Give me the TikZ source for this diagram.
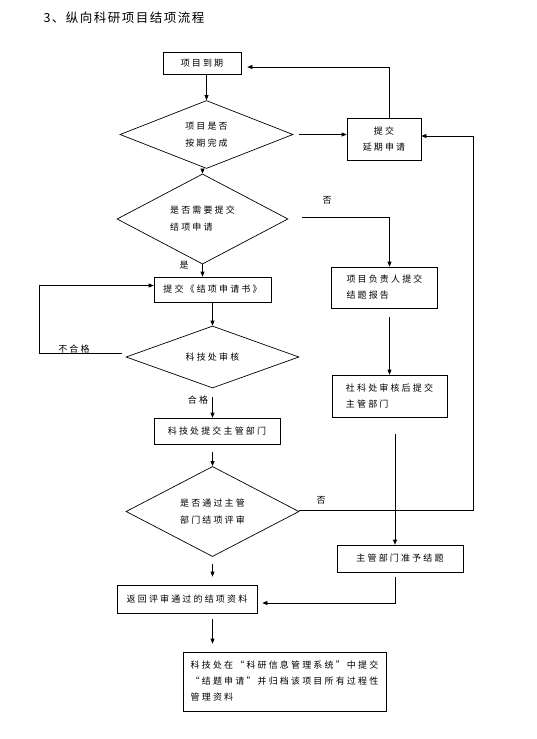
\documentclass[tikz,border=0pt]{standalone}
\usepackage{fontspec}
\newfontfamily\cjk[LetterSpace=24]{Noto Sans CJK SC}
\newfontfamily\cjktitle[LetterSpace=12]{Noto Sans CJK SC}
\usetikzlibrary{arrows.meta, positioning, shapes.geometric}

\begin{document}
\begin{tikzpicture}[x=1pt, y=-1pt,
  box/.style={draw, line width=0.7pt, inner sep=2pt, align=left,
              font=\cjk\fontsize{9}{16}\selectfont},
  dia/.style={draw, diamond, line width=0.7pt, inner sep=0pt, align=left,
              font=\cjk\fontsize{9}{17}\selectfont},
  arrow/.style={-{Triangle[length=5pt, width=4pt]}, line width=0.7pt},
  note/.style={font=\cjk\fontsize{9}{10}\selectfont}
]
  \useasboundingbox (0,0) rectangle (536,739);

  \node[font=\cjktitle\fontsize{12.5}{14}\selectfont, anchor=west] (title) at (40,18) {3、纵向科研项目结项流程};

  \node[box, minimum width=78pt, minimum height=22pt] (due) at (202,63) {项目到期};
  \node[dia, minimum width=173pt, minimum height=68pt] (d1) at (206.5,134.5) {项目是否\\按期完成};
  \node[box, align=center, minimum width=74pt, minimum height=42pt] (ext) at (384,139) {提交\\延期申请};
  \node[dia, minimum width=171pt, minimum height=66pt] (d2) at (202.5,219) {是否需要提交\\结项申请};
  \node[box, minimum width=106pt, minimum height=41pt] (report) at (384.5,287.5) {项目负责人提交\\结题报告};
  \node[box, minimum width=117pt, minimum height=25pt] (apply) at (212.5,289.5) {提交《结项申请书》};
  \node[dia, minimum width=173pt, minimum height=58pt] (d3) at (212.5,357) {科技处审核};
  \node[box, minimum width=115pt, minimum height=42pt] (check) at (389.5,396) {社科处审核后提交\\主管部门};
  \node[box, minimum width=126pt, minimum height=26pt] (submit) at (217,431) {科技处提交主管部门};
  \node[dia, minimum width=173pt, minimum height=69pt] (d4) at (212.5,511.5) {是否通过主管\\部门结项评审};
  \node[box, minimum width=126pt, minimum height=27pt] (approve) at (400,558.5) {主管部门准予结题};
  \node[box, minimum width=140pt, minimum height=28pt] (back) at (187,599) {返回评审通过的结项资料};
  \node[box, minimum width=203pt, minimum height=59pt] (archive) at (284.5,681.5)
    {科技处在“科研信息管理系统”中提交\\“结题申请”并归档该项目所有过程性\\管理资料};

  \coordinate (rt) at (473,0);
  \coordinate (lt) at (39,0);

  \draw[arrow] (due.south -| d1.north) -- (d1.north);
  \draw[arrow, shorten <=6pt] (d1.east) -- (d1.east -| ext.west);
  \draw[arrow, shorten >=6pt] ([xshift=5pt]ext.north) |- ([yshift=-4pt]due.east);
  \draw[arrow] (d1.south -| d2.north) -- (d2.north);
  \draw[arrow, shorten <=14pt] ([yshift=2pt]d2.east) -| ([xshift=5pt]report.north);
  \draw[arrow] (d2.south) -- (d2.south |- apply.north);
  \draw[arrow] (apply.south) -- (apply.south |- d3.north);
  \draw[arrow, shorten <=4pt] ([yshift=4pt]d3.west) -- ([yshift=4pt]d3.west -| lt) |- ([yshift=4pt]apply.west);
  \draw[arrow, shorten <=9pt] (d3.south) -- (d3.south |- submit.north);
  \draw[arrow, shorten <=8pt] (d4.north |- submit.south) -- (d4.north);
  \draw[arrow, shorten <=7pt, shorten >=8pt] (d4.south) -- (d4.south |- back.north);
  \draw[arrow, shorten <=6pt, shorten >=8pt] (back.south -| d4.south) -- (d4.south |- archive.north);
  \draw[arrow, shorten <=9pt] (check.north |- report.south) -- (check.north);
  \draw[arrow, shorten <=17pt] ([xshift=-5pt]approve.north |- check.south) -- ([xshift=-5pt]approve.north);
  \draw[arrow, shorten <=5pt, shorten >=5pt] ([xshift=-5pt]approve.south) |- ([yshift=-4pt]back.east);
  \draw[arrow] ([yshift=1.5pt]d4.east) -- ([yshift=1.5pt]d4.east -| rt) |- ([yshift=3pt]ext.east);

  \node[note] (no1) at (327,200) {否};
  \node[note] (yes1) at (184,265) {是};
  \node[note] (fail) at (74,349) {不合格};
  \node[note] (pass) at (198,400) {合格};
  \node[note] (no2) at (321,500) {否};
\end{tikzpicture}
\end{document}
